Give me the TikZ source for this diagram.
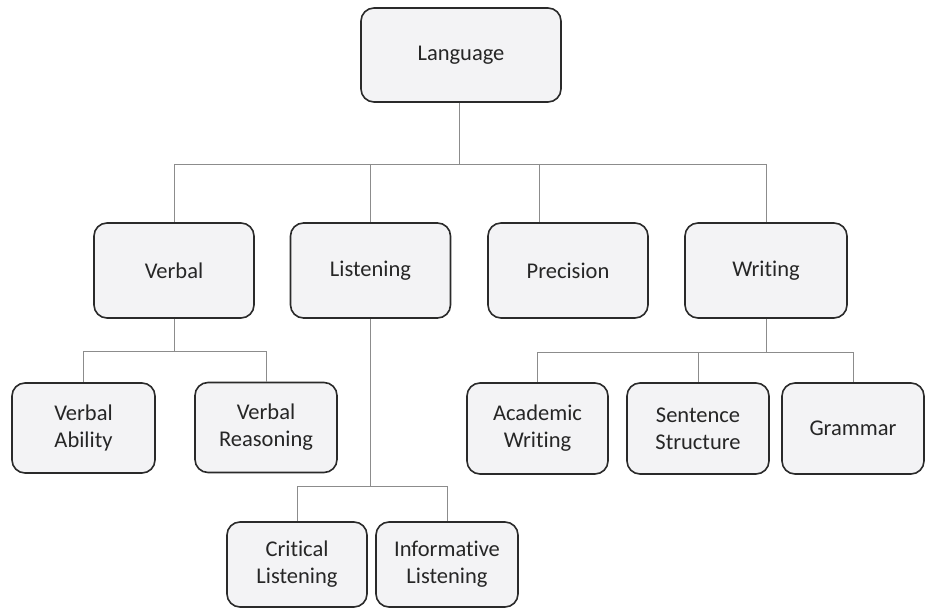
\documentclass[tikz,border=0pt]{standalone}
\usepackage{fontspec}
\setmainfont{Carlito}[Ligatures=NoCommon]
\begin{document}
\begin{tikzpicture}[x=1pt,y=-1pt,
  box/.style={draw=boxline, fill=boxfill, line width=1.6pt, rounded corners=13pt,
    align=center, inner sep=0pt, font=\fontsize{22.5}{27}\selectfont, text=textcol},
  top/.style={box, minimum width=160pt, minimum height=95pt},
  sub/.style={box, minimum width=142pt, minimum height=89pt},
  conn/.style={draw=connline, line width=0.8pt}]
\definecolor{boxline}{HTML}{2A2A2A}
\definecolor{boxfill}{HTML}{F3F3F5}
\definecolor{connline}{HTML}{8C8C8C}
\definecolor{textcol}{HTML}{262626}
\useasboundingbox (0,0) rectangle (925,609);
\fill[white] (0,0) rectangle (925,609);

\node[box, minimum width=200pt, minimum height=94pt] (lang) at (461,55) {Language};

\node[top] (verbal) at (174,270.5) {Verbal};
\node[top] (listen) at (370.5,270.5) {Listening};
\node[top] (prec) at (568,270.5) {Precision};
\node[top, minimum width=162pt] (writing) at (766,270.5) {Writing};

\node[sub, minimum width=143pt, minimum height=90pt] (vab) at (83.5,428) {Verbal\\Ability};
\node[sub, minimum width=142pt, minimum height=90pt] (vre) at (266,427.5) {Verbal\\Reasoning};

\node[sub, minimum width=140pt, minimum height=85pt] (crit) at (297,564.5) {Critical\\Listening};
\node[sub, minimum width=142pt, minimum height=85pt] (info) at (447,564.5) {Informative\\Listening};

\node[sub, minimum width=141pt, minimum height=91pt] (acad) at (537.5,428.5) {Academic\\Writing};
\node[sub, minimum width=142pt, minimum height=91pt] (sent) at (698,428.5) {Sentence\\Structure};
\node[sub, minimum width=142pt, minimum height=91pt] (gram) at (853,428.5) {Grammar};

% level 1 connectors
\coordinate (tA) at (459,164);
\coordinate (pA) at (539,164);
\draw[conn] (tA |- lang.south) -- (tA);
\draw[conn] (verbal.north |- tA) -- (writing.north |- tA);
\draw[conn] (verbal.north |- tA) -- (verbal.north);
\draw[conn] (listen.north |- tA) -- (listen.north);
\draw[conn] (pA) -- (pA |- prec.north);
\draw[conn] (writing.north |- tA) -- (writing.north);

% verbal
\coordinate (vB) at (174,351);
\draw[conn] (verbal.south) -- (verbal.south |- vB);
\draw[conn] (vab.north |- vB) -- (vre.north |- vB);
\draw[conn] (vab.north |- vB) -- (vab.north);
\draw[conn] (vre.north |- vB) -- (vre.north);

% listening
\coordinate (lB) at (371,486);
\draw[conn] (listen.south) -- (listen.south |- lB);
\draw[conn] (crit.north |- lB) -- (info.north |- lB);
\draw[conn] (crit.north |- lB) -- (crit.north);
\draw[conn] (info.north |- lB) -- (info.north);

% writing
\coordinate (wB) at (766,352);
\draw[conn] (writing.south) -- (writing.south |- wB);
\draw[conn] (acad.north |- wB) -- (gram.north |- wB);
\draw[conn] (acad.north |- wB) -- (acad.north);
\draw[conn] (sent.north |- wB) -- (sent.north);
\draw[conn] (gram.north |- wB) -- (gram.north);
\end{tikzpicture}
\end{document}
